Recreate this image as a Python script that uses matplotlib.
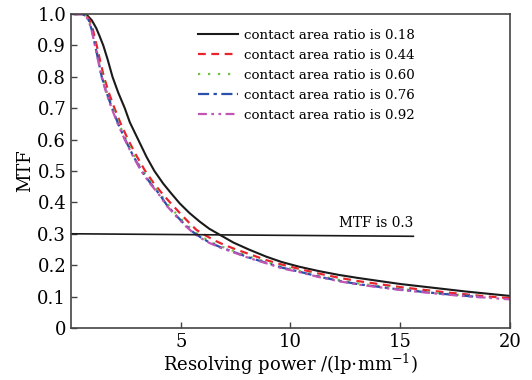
import matplotlib
matplotlib.use("Agg")
import matplotlib.pyplot as plt

plt.rcParams['font.family'] = ['DejaVu Serif']
plt.rcParams['mathtext.fontset'] = 'dejavuserif'

# contact area ratio 0.18
x_018 = [0.15, 0.55, 0.75, 0.95, 1.15, 1.3, 1.47, 1.67, 1.89, 2.15, 2.45, 2.68,
         3.06, 3.44, 3.8, 4.2, 4.55, 4.95, 5.4, 5.86, 6.3, 6.75, 7.4, 8.1, 8.9,
         9.6, 10.4, 11.3, 12.2, 13.1, 14.0, 15.0, 16.0, 17.0, 18.0, 19.0, 20.0]
y_018 = [1.0, 1.0, 0.995, 0.98, 0.955, 0.93, 0.90, 0.855, 0.80, 0.75, 0.70, 0.655,
         0.60, 0.545, 0.50, 0.46, 0.43, 0.397, 0.366, 0.339, 0.316, 0.298, 0.272,
         0.25, 0.227, 0.21, 0.195, 0.181, 0.169, 0.159, 0.15, 0.14, 0.132, 0.124,
         0.116, 0.109, 0.102]

# contact area ratio 0.44
x_044 = [0.15, 0.55, 0.7, 0.85, 1.0, 1.17, 1.33, 1.5, 1.72, 1.98, 2.27, 2.6,
         2.97, 3.38, 3.78, 4.18, 4.55, 5.0, 5.4, 5.72, 6.1, 6.5, 7.0, 7.6, 8.3,
         8.9, 9.6, 10.4, 11.3, 12.2, 13.1, 14.0, 15.0, 16.0, 17.0, 18.0, 19.0, 20.0]
y_044 = [1.0, 1.0, 0.995, 0.98, 0.95, 0.90, 0.85, 0.80, 0.75, 0.70, 0.65, 0.60,
         0.55, 0.50, 0.46, 0.426, 0.397, 0.363, 0.334, 0.312, 0.296, 0.28, 0.264,
         0.248, 0.231, 0.216, 0.202, 0.188, 0.173, 0.16, 0.149, 0.14, 0.13, 0.122,
         0.114, 0.107, 0.1, 0.095]

# contact area ratio 0.60
x_060 = [0.15, 0.5, 0.67, 0.82, 0.97, 1.12, 1.27, 1.43, 1.65, 1.9, 2.19, 2.51,
         2.87, 3.27, 3.67, 4.07, 4.42, 4.87, 5.27, 5.62, 5.97, 6.37, 6.87, 7.47,
         8.17, 8.97, 9.67, 10.47, 11.37, 12.27, 13.17, 14.07, 15.07, 16.07, 17.07,
         18.0, 18.9]
y_060 = [1.0, 1.0, 0.995, 0.98, 0.947, 0.90, 0.85, 0.80, 0.75, 0.70, 0.65, 0.60,
         0.55, 0.50, 0.461, 0.427, 0.393, 0.358, 0.329, 0.307, 0.29, 0.274, 0.259,
         0.244, 0.226, 0.209, 0.194, 0.181, 0.165, 0.152, 0.141, 0.133, 0.124,
         0.116, 0.109, 0.103, 0.098]

# contact area ratio 0.76
x_076 = [0.15, 0.5, 0.66, 0.81, 0.96, 1.1, 1.25, 1.4, 1.62, 1.87, 2.15, 2.47,
         2.82, 3.22, 3.62, 4.02, 4.37, 4.82, 5.22, 5.57, 5.92, 6.32, 6.82, 7.42,
         8.12, 8.92, 9.62, 10.42, 11.32, 12.22, 13.12, 14.02, 15.02, 16.02, 17.02,
         18.0, 18.9]
y_076 = [1.0, 1.0, 0.995, 0.98, 0.946, 0.90, 0.85, 0.80, 0.75, 0.70, 0.65, 0.60,
         0.55, 0.50, 0.461, 0.427, 0.391, 0.356, 0.327, 0.305, 0.288, 0.272, 0.257,
         0.242, 0.224, 0.207, 0.192, 0.179, 0.163, 0.15, 0.139, 0.131, 0.122,
         0.115, 0.108, 0.102, 0.097]

# contact area ratio 0.92
x_092 = [0.15, 0.5, 0.65, 0.8, 0.95, 1.09, 1.24, 1.39, 1.6, 1.85, 2.13, 2.45,
         2.8, 3.2, 3.6, 4.0, 4.35, 4.8, 5.2, 5.55, 5.9, 6.3, 6.8, 7.4, 8.1, 8.9,
         9.6, 10.4, 11.3, 12.2, 13.1, 14.0, 15.0, 16.0, 17.0, 18.0, 19.0, 20.0]
y_092 = [1.0, 1.0, 0.995, 0.98, 0.945, 0.90, 0.85, 0.80, 0.75, 0.70, 0.65, 0.60,
         0.55, 0.50, 0.46, 0.426, 0.39, 0.355, 0.326, 0.304, 0.287, 0.271, 0.256,
         0.241, 0.223, 0.206, 0.19, 0.178, 0.162, 0.149, 0.138, 0.13, 0.121, 0.114,
         0.107, 0.101, 0.096, 0.091]

# MTF = 0.3 reference line
line_x = [0.0, 15.6]
line_y = [0.300, 0.292]

x_ticks = [5, 10, 15, 20]
y_ticks = [0, 0.1, 0.2, 0.3, 0.4, 0.5, 0.6, 0.7, 0.8, 0.9, 1.0]
y_ticklabels = ['0', '0.1', '0.2', '0.3', '0.4', '0.5', '0.6', '0.7', '0.8', '0.9', '1.0']

fig = plt.figure(figsize=(5.32, 3.8), dpi=100)
ax = fig.add_axes([0.1335, 0.137, 0.825, 0.826])

ax.plot(x_018, y_018, color='#1a1a1a', lw=1.5, ls='-', label='contact area ratio is 0.18')
ax.plot(x_044, y_044, color='#e8242c', lw=1.6, ls=(0, (3.5, 2.5)), label='contact area ratio is 0.44')
ax.plot(x_060, y_060, color='#72bf44', lw=1.6, ls=(0, (1, 3.5)), label='contact area ratio is 0.60')
ax.plot(x_076, y_076, color='#2a50a8', lw=1.6, ls=(0, (5, 2, 1.5, 2)), label='contact area ratio is 0.76')
ax.plot(x_092, y_092, color='#c254b4', lw=1.6, ls=(0, (4, 2, 1.2, 2, 1.2, 2)), label='contact area ratio is 0.92')

ax.plot(line_x, line_y, color='#1a1a1a', lw=1.2)
ax.text(15.6, 0.312, 'MTF is 0.3', ha='right', va='bottom', fontsize=9.8)

ax.set_xlim(0, 20)
ax.set_ylim(0, 1.0)
ax.set_xticks(x_ticks)
ax.set_yticks(y_ticks)
ax.set_yticklabels(y_ticklabels)
ax.tick_params(direction='in', length=4, width=1.0, labelsize=13, color='#444444')
for s in ax.spines.values():
    s.set_color('#444444')
    s.set_linewidth(1.2)

ax.set_xlabel(r'Resolving power /(lp$\cdot$mm$^{-1}$)', fontsize=13, labelpad=1)
ax.set_ylabel('MTF', fontsize=13, labelpad=2)

ax.legend(loc='upper left', bbox_to_anchor=(0.269, 0.982), frameon=False, fontsize=9.6,
          handlelength=3.0, handletextpad=0.4, labelspacing=0.52, borderaxespad=0.3)

fig.savefig('out.png', dpi=100)
